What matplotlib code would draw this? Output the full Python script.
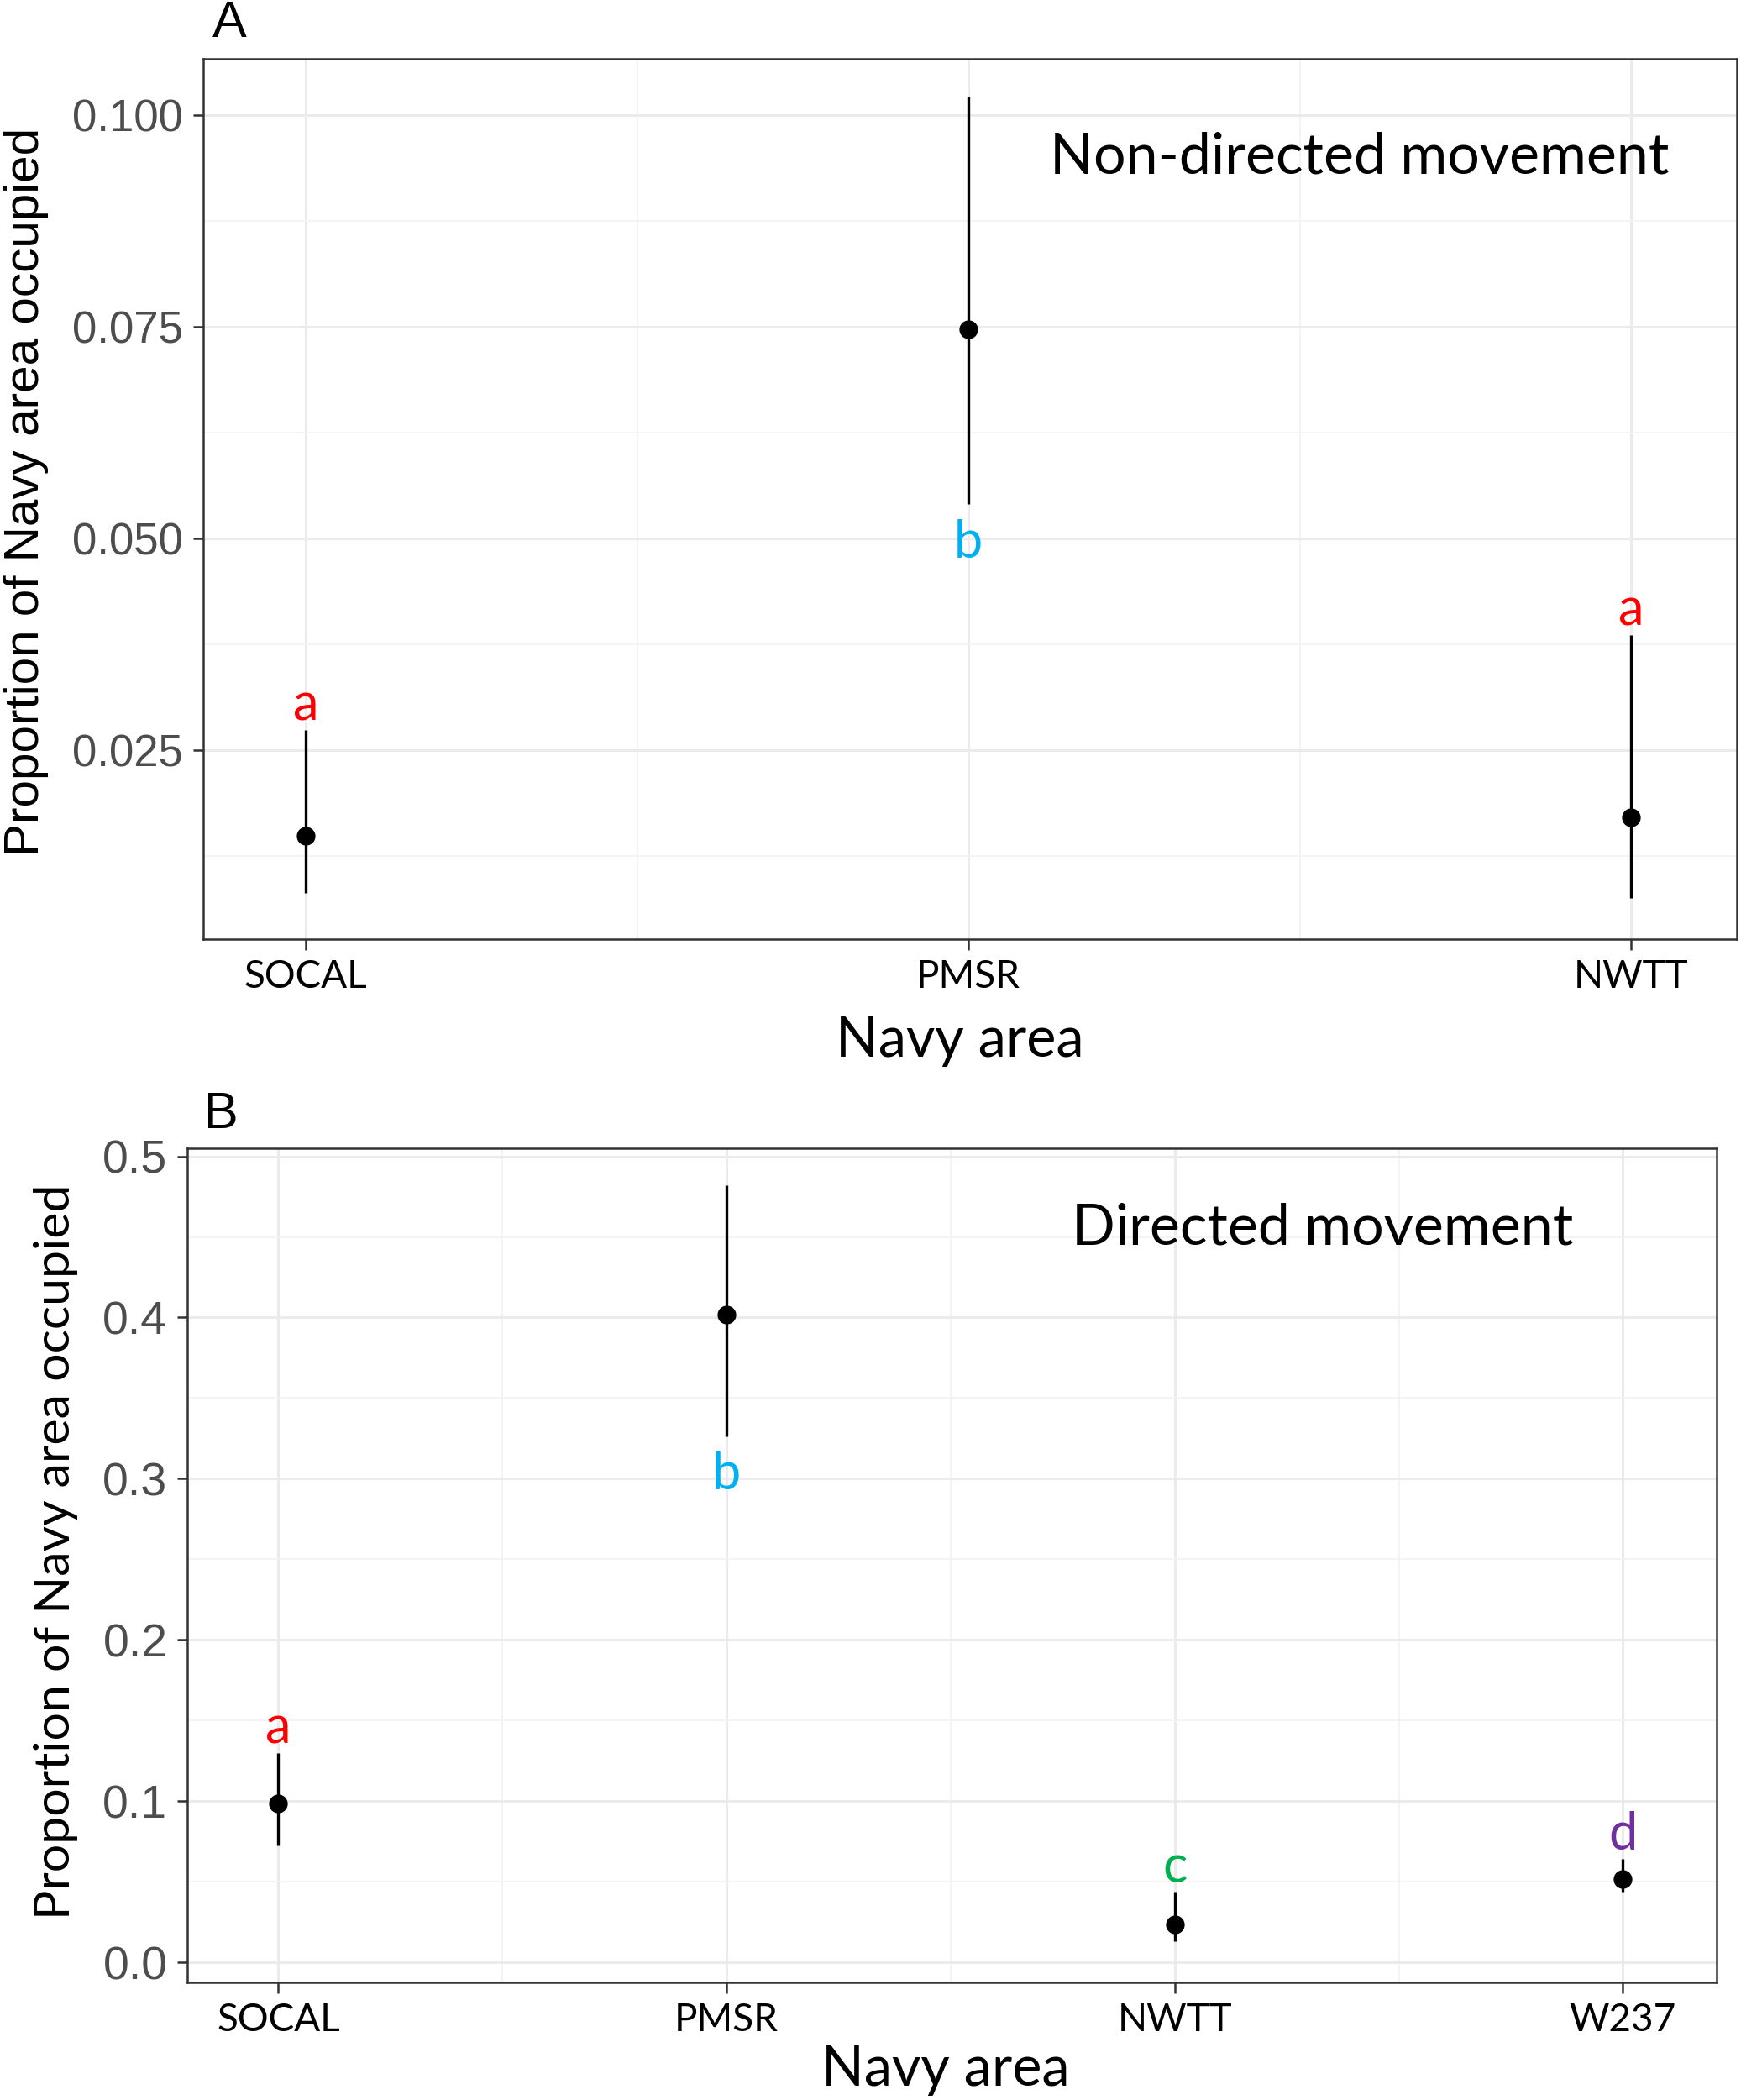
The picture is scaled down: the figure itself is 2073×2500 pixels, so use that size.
import numpy as np
import matplotlib
matplotlib.use("Agg")
import matplotlib.pyplot as plt
from matplotlib.ticker import MultipleLocator

# === Data ===
areas_a = ["SOCAL", "PMSR", "NWTT"]
mean_a = [0.0149, 0.0747, 0.0171]
lo_a = [0.0082, 0.0541, 0.0076]
hi_a = [0.0274, 0.1021, 0.0386]
letters_a = ["a", "b", "a"]
letter_pos_a = ["above", "below", "above"]
letter_col_a = ["#FF0000", "#00B0F0", "#FF0000"]

areas_b = ["SOCAL", "PMSR", "NWTT", "W237"]
mean_b = [0.0985, 0.4016, 0.0233, 0.0515]
lo_b = [0.0726, 0.326, 0.013, 0.044]
hi_b = [0.130, 0.482, 0.044, 0.064]
letters_b = ["a", "b", "c", "d"]
letter_pos_b = ["above", "below", "above", "above"]
letter_col_b = ["#FF0000", "#00B0F0", "#00B050", "#7030A0"]

CAL = "Lato"      # stand-in for Calibri
ARIAL = "Liberation Sans"
GRID = "#EBEBEB"
FRAME = "#333333"

fig = plt.figure(figsize=(20.73, 25), dpi=100)
ax_a = fig.add_axes([0.1167, 0.5528, 0.881, 0.4192])
ax_b = fig.add_axes([0.1076, 0.056, 0.8784, 0.3972])


def panel(ax, areas, mean, lo, hi, letters, pos, cols, ylim, major, minor,
          fmt, ysize, note, note_xy, gap_up, gap_dn):
    x = np.arange(1, len(areas) + 1)
    ax.set_xlim(x[0] - 0.2, x[-1] + 0.2)
    ax.set_ylim(*ylim)
    ax.yaxis.set_major_locator(MultipleLocator(major))
    ax.yaxis.set_minor_locator(MultipleLocator(minor))
    ax.set_xticks(x)
    ax.set_xticks(x[:-1] + 0.5, minor=True)
    ax.set_xticklabels(areas, fontfamily=CAL, fontsize=33)
    ax.yaxis.set_major_formatter(plt.FuncFormatter(lambda v, p: fmt % v))
    for lab in ax.get_yticklabels():
        lab.set_fontfamily(ARIAL)
        lab.set_fontsize(ysize)
        lab.set_color("#4D4D4D")
    ax.grid(True, which="major", color=GRID, lw=2.2)
    ax.grid(True, which="minor", color="#F4F4F4", lw=1.4)
    ax.set_axisbelow(True)
    ax.tick_params(which="major", length=9, width=1.8, color=FRAME, pad=8)
    ax.tick_params(axis="x", which="minor", length=0)
    ax.tick_params(axis="y", which="minor", length=0)
    for s in ax.spines.values():
        s.set_color(FRAME)
        s.set_linewidth(1.8)

    ax.vlines(x, lo, hi, color="black", lw=2.4, zorder=3)
    ax.plot(x, mean, "o", color="black", ms=15, zorder=4)

    for xi, l, h, t, p, c in zip(x, lo, hi, letters, pos, cols):
        if p == "above":
            ax.annotate(t, (xi, h), xytext=(0, gap_up), textcoords="offset points",
                        ha="center", va="bottom", color=c, fontfamily=CAL, fontsize=44)
        else:
            ax.annotate(t, (xi, l), xytext=(0, -gap_dn), textcoords="offset points",
                        ha="center", va="top", color=c, fontfamily=CAL, fontsize=44)

    ax.text(note_xy[0], note_xy[1], note, transform=ax.transAxes, ha="center",
            va="center", fontfamily=CAL, fontsize=49, color="black")


panel(ax_a, areas_a, mean_a, lo_a, hi_a, letters_a, letter_pos_a, letter_col_a,
      (0.0027, 0.1066), 0.025, 0.0125, "%.3f", 38, "Non-directed movement",
      (0.754, 0.888), 0, 13)
ax_a.set_xlim(0.845, 3.16)

panel(ax_b, areas_b, mean_b, lo_b, hi_b, letters_b, letter_pos_b, letter_col_b,
      (-0.0125, 0.505), 0.1, 0.05, "%.1f", 40, "Directed movement",
      (0.742, 0.904), 0, 12)
ax_b.set_xlim(0.797, 4.209)

# axis titles and panel tags
fig.text(0.5515, 0.5044, "Navy area", ha="center", va="center",
         fontfamily=CAL, fontsize=48)
fig.text(0.543, 0.0144, "Navy area", ha="center", va="center",
         fontfamily=CAL, fontsize=48)
fig.text(0.015, 0.766, "Proportion of Navy area occupied", rotation=90,
         ha="center", va="center", fontfamily=ARIAL, fontsize=42)
fig.text(0.032, 0.261, "Proportion of Navy area occupied", rotation=90,
         ha="center", va="center", fontfamily=CAL, fontsize=42.5)
fig.text(0.132, 0.9885, "A", ha="center", va="center", fontfamily=ARIAL, fontsize=44)
fig.text(0.127, 0.469, "B", ha="center", va="center", fontfamily=ARIAL, fontsize=44)

fig.savefig("out.png", dpi=100, facecolor="white")
